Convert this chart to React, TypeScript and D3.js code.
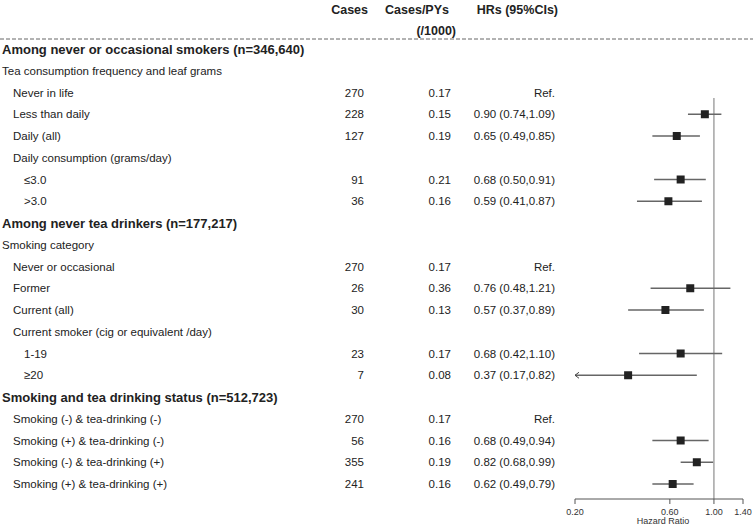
import React from "react";
import * as d3 from "d3";

const rowLabels = [
  "Among never or occasional smokers (n=346,640)",
  "Tea consumption frequency and leaf grams",
  "Never in life",
  "Less than daily",
  "Daily (all)",
  "Daily consumption (grams/day)",
  "≤3.0",
  ">3.0",
  "Among never tea drinkers (n=177,217)",
  "Smoking category",
  "Never or occasional",
  "Former",
  "Current (all)",
  "Current smoker (cig or equivalent /day)",
  "1-19",
  "≥20",
  "Smoking and tea drinking status (n=512,723)",
  "Smoking (-) & tea-drinking (-)",
  "Smoking (+) & tea-drinking (-)",
  "Smoking (-) & tea-drinking (+)",
  "Smoking (+) & tea-drinking (+)",
];
const rowLevels = [0, 1, 2, 2, 2, 2, 3, 3, 0, 1, 2, 2, 2, 2, 3, 3, 0, 2, 2, 2, 2];
const cases: (number | null)[] = [null, null, 270, 228, 127, null, 91, 36, null, null, 270, 26, 30, null, 23, 7, null, 270, 56, 355, 241];
const rates: (number | null)[] = [null, null, 0.17, 0.15, 0.19, null, 0.21, 0.16, null, null, 0.17, 0.36, 0.13, null, 0.17, 0.08, null, 0.17, 0.16, 0.19, 0.16];
const isRef = [false, false, true, false, false, false, false, false, false, false, true, false, false, false, false, false, false, true, false, false, false];
const hr: (number | null)[] = [null, null, null, 0.90, 0.65, null, 0.68, 0.59, null, null, null, 0.76, 0.57, null, 0.68, 0.37, null, null, 0.68, 0.82, 0.62];
const lo: (number | null)[] = [null, null, null, 0.74, 0.49, null, 0.50, 0.41, null, null, null, 0.48, 0.37, null, 0.42, 0.17, null, null, 0.49, 0.68, 0.49];
const hi: (number | null)[] = [null, null, null, 1.09, 0.85, null, 0.91, 0.87, null, null, null, 1.21, 0.89, null, 1.10, 0.82, null, null, 0.94, 0.99, 0.79];
const axisTicks = [0.2, 0.6, 1.0, 1.4];
const headers = ["Cases", "Cases/PYs", "HRs (95%CIs)"];

const FONT = "'Liberation Sans', Arial, sans-serif";
const NARROW = "'Liberation Sans Narrow', 'Arial Narrow', 'Liberation Sans', sans-serif";

export default function App() {
  const W = 753, H = 528;
  const x = d3.scaleLog().domain([0.2, 1.4]).range([575, 743]);
  const y = (i: number) => 49 + i * 21.75;
  const indent = [2, 2, 13, 24];
  const axisY = 499;
  const sq = 8;
  const fmt = (v: number) => v.toFixed(2);
  const fs = 11.5;
  const colCases = 364, colRate = 451, colHR = 555;

  return (
    <svg width={W} height={H} style={{ position: "absolute", left: 0, top: 0, background: "#fff" }}>
      <rect width={W} height={H} fill="#fff" />
      {/* headers */}
      <g fontFamily={NARROW} fontWeight="bold" fontSize={12.5} fill="#222">
        <text x={368} y={10} textAnchor="end" dominantBaseline="central">{headers[0]}</text>
        <text x={449} y={10} textAnchor="end" dominantBaseline="central">{headers[1]}</text>
        <text x={456} y={31} textAnchor="end" dominantBaseline="central">(/1000)</text>
        <text x={558} y={10} textAnchor="end" dominantBaseline="central">{headers[2]}</text>
      </g>
      <line x1={0} x2={W} y1={39} y2={39} stroke="#666" strokeWidth={1} strokeDasharray="4,2" />
      {/* rows */}
      <g fontFamily={FONT} fill="#222">
        {rowLabels.map((lab, i) => (
          <text
            key={"l" + i}
            x={indent[rowLevels[i]]}
            y={y(i)}
            dominantBaseline="central"
            fontSize={rowLevels[i] === 0 ? 13 : fs}
            fontWeight={rowLevels[i] === 0 ? "bold" : "normal"}
          >
            {lab}
          </text>
        ))}
        {cases.map((c, i) =>
          c == null ? null : (
            <text key={"c" + i} x={colCases} y={y(i)} textAnchor="end" dominantBaseline="central" fontSize={fs}>{c}</text>
          )
        )}
        {rates.map((r, i) =>
          r == null ? null : (
            <text key={"r" + i} x={colRate} y={y(i)} textAnchor="end" dominantBaseline="central" fontSize={fs}>{fmt(r)}</text>
          )
        )}
        {hr.map((h, i) => {
          if (isRef[i])
            return <text key={"h" + i} x={colHR} y={y(i)} textAnchor="end" dominantBaseline="central" fontSize={fs}>Ref.</text>;
          if (h == null) return null;
          return (
            <text key={"h" + i} x={colHR} y={y(i)} textAnchor="end" dominantBaseline="central" fontSize={fs}>
              {`${fmt(h)} (${fmt(lo[i]!)},${fmt(hi[i]!)})`}
            </text>
          );
        })}
      </g>
      {/* reference line */}
      <line x1={x(1)} x2={x(1)} y1={98} y2={axisY} stroke="#777" strokeWidth={1} />
      {/* CIs */}
      {hr.map((h, i) => {
        if (h == null) return null;
        const l = lo[i]!, u = hi[i]!;
        const clipped = l < 0.2;
        const x1 = x(Math.max(l, 0.2));
        const x2 = x(Math.min(u, 1.4));
        const yy = y(i);
        return (
          <g key={"ci" + i}>
            <line x1={x1} x2={x2} y1={yy} y2={yy} stroke="#666" strokeWidth={1.4} />
            {clipped && (
              <path d={`M${x1 + 4},${yy - 3} L${x1},${yy} L${x1 + 4},${yy + 3}`} fill="none" stroke="#444" strokeWidth={1} />
            )}
            <rect x={x(h) - sq / 2} y={yy - sq / 2} width={sq} height={sq} fill="#222" />
          </g>
        );
      })}
      {/* axis */}
      <g>
        <line x1={x(0.2)} x2={x(1.4)} y1={axisY} y2={axisY} stroke="#555" strokeWidth={1} />
        {axisTicks.map((t) => (
          <g key={"t" + t}>
            <line x1={x(t)} x2={x(t)} y1={axisY} y2={axisY + 5} stroke="#555" strokeWidth={1} />
            <text x={x(t)} y={axisY + 13} textAnchor="middle" dominantBaseline="central" fontSize={9} fontFamily={FONT} fill="#333">
              {fmt(t)}
            </text>
          </g>
        ))}
        <text x={(x(0.2) + x(1.4)) / 2 + 4} y={axisY + 22} textAnchor="middle" dominantBaseline="central" fontSize={9} fontFamily={FONT} fill="#333">
          Hazard Ratio
        </text>
      </g>
    </svg>
  );
}
